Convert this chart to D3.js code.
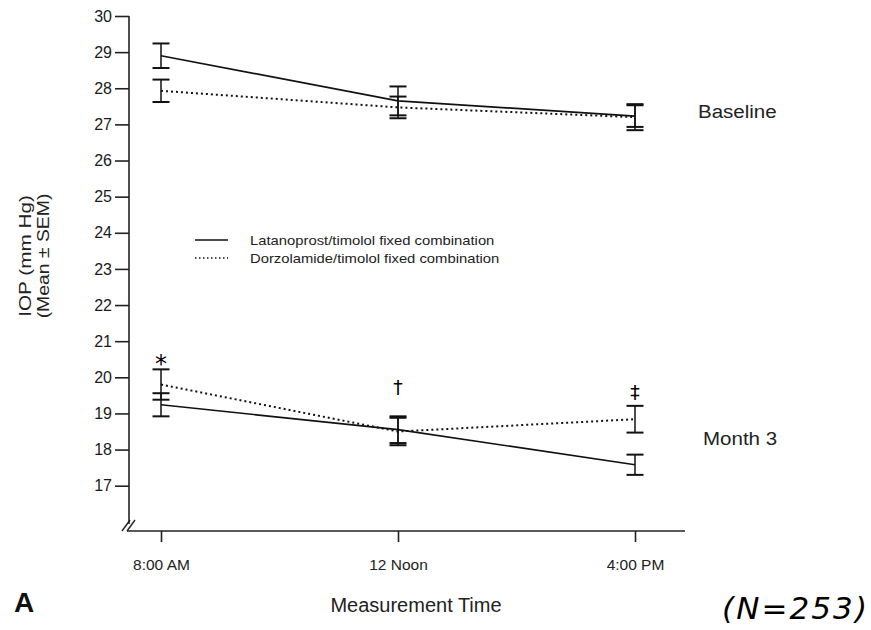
<!DOCTYPE html>
<html>
<head>
<meta charset="utf-8">
<script src="https://cdn.jsdelivr.net/npm/d3@7"></script>
<style>
  body { margin: 0; background: #fff; }
  svg { display: block; font-family: "Liberation Sans", Arial, sans-serif; }
</style>
</head>
<body>
<script>
const svgWidth = 871;
const svgHeight = 630;

// measurement times
const times = ["8:00 AM", "12 Noon", "4:00 PM"];
const yTicks = [17, 18, 19, 20, 21, 22, 23, 24, 25, 26, 27, 28, 29, 30];

// baseline means / SEM
const latBaseMean = [28.9, 27.65, 27.23];
const latBaseSem = [0.34, 0.4, 0.3];
const dorBaseMean = [27.93, 27.47, 27.2];
const dorBaseSem = [0.31, 0.3, 0.36];

// month 3 means / SEM
const latM3Mean = [19.24, 18.55, 17.58];
const latM3Sem = [0.32, 0.37, 0.28];
const dorM3Mean = [19.8, 18.5, 18.84];
const dorM3Sem = [0.42, 0.38, 0.37];

// significance marks and the IOP level they sit at
const sigMarks = ["*", "\u2020", "\u2021"];
const sigLevel = [20.55, 19.72, 19.6];
const seriesNames = ["Latanoprost/timolol fixed combination", "Dorzolamide/timolol fixed combination"];

const svg = d3.select("body").append("svg")
    .attr("width", svgWidth)
    .attr("height", svgHeight);

const xScale = d3.scalePoint()
    .domain(times)
    .range([161, 635]);

const yScale = d3.scaleLinear()
    .domain([17, 30])
    .range([485.7, 16]);

const axisX0 = 129;
const axisY0 = 531;

// y axis
const yAxis = svg.append("g")
    .attr("transform", `translate(${axisX0},0)`)
    .call(d3.axisLeft(yScale).tickValues(yTicks).tickSize(14).tickPadding(3).tickFormat(d3.format("d")));
yAxis.select(".domain").remove();
yAxis.selectAll("line").attr("stroke", "#222").attr("stroke-width", 1.6);
yAxis.selectAll("text").attr("fill", "#1a1a1a").style("font-size", "16px");

svg.append("line")
    .attr("x1", axisX0).attr("x2", axisX0)
    .attr("y1", yScale(30)).attr("y2", 524)
    .attr("stroke", "#222").attr("stroke-width", 1.6);

// axis break
[0, 5].forEach(o => {
    svg.append("line")
        .attr("x1", axisX0 - 7 + o).attr("y1", 531)
        .attr("x2", axisX0 + 1 + o).attr("y2", 520)
        .attr("stroke", "#222").attr("stroke-width", 1.4);
});

// x axis
const xAxis = svg.append("g")
    .attr("transform", `translate(0,${axisY0})`)
    .call(d3.axisBottom(xScale).tickSize(11).tickPadding(17));
xAxis.select(".domain").remove();
xAxis.selectAll("line").attr("stroke", "#222").attr("stroke-width", 1.6);
xAxis.selectAll("text").attr("fill", "#222").style("font-size", "15.5px");

svg.append("line")
    .attr("x1", axisX0 - 2).attr("x2", 685)
    .attr("y1", axisY0).attr("y2", axisY0)
    .attr("stroke", "#222").attr("stroke-width", 1.6);

// lines
const line = d3.line()
    .x((d, i) => xScale(times[i]))
    .y(d => yScale(d));

function drawSeries(means, sems, dashed) {
    svg.append("path")
        .datum(means)
        .attr("d", line)
        .attr("fill", "none")
        .attr("stroke", "#111")
        .attr("stroke-width", dashed ? 2 : 1.7)
        .attr("stroke-dasharray", dashed ? "2,3" : null);

    const g = svg.append("g");
    means.forEach((m, i) => {
        const x = xScale(times[i]);
        const yt = yScale(m + sems[i]);
        const yb = yScale(m - sems[i]);
        g.append("line").attr("x1", x).attr("x2", x).attr("y1", yt).attr("y2", yb)
            .attr("stroke", "#111").attr("stroke-width", 1.5);
        [yt, yb].forEach(yy => {
            g.append("line").attr("x1", x - 8.5).attr("x2", x + 8.5).attr("y1", yy).attr("y2", yy)
                .attr("stroke", "#111").attr("stroke-width", 2);
        });
    });
}

drawSeries(latBaseMean, latBaseSem, false);
drawSeries(dorBaseMean, dorBaseSem, true);
drawSeries(latM3Mean, latM3Sem, false);
drawSeries(dorM3Mean, dorM3Sem, true);

// significance marks
svg.selectAll(".sig")
    .data(sigMarks)
    .enter()
    .append("text")
    .attr("class", "sig")
    .attr("x", (d, i) => xScale(times[i]))
    .attr("y", (d, i) => yScale(sigLevel[i]))
    .attr("text-anchor", "middle")
    .attr("fill", "#000")
    .style("font-family", "'DejaVu Sans', sans-serif")
    .style("font-size", (d, i) => i === 0 ? "24px" : "19px")
    .attr("dy", (d, i) => i === 0 ? "0.62em" : "0.36em")
    .text(d => d);

// group labels
svg.append("text").attr("x", 698).attr("y", 118).text("Baseline")
    .attr("transform", "translate(698,118) scale(1.08,1) translate(-698,-118)")
    .style("font-size", "19px").attr("fill", "#222");
svg.append("text").attr("x", 703).attr("y", 445).text("Month 3")
    .attr("transform", "translate(703,445) scale(1.08,1) translate(-703,-445)")
    .style("font-size", "19px").attr("fill", "#222");

// legend
const legend = svg.append("g").attr("transform", "translate(195,240)");
seriesNames.forEach((name, i) => {
    legend.append("line")
        .attr("x1", 0).attr("x2", 33).attr("y1", i * 18).attr("y2", i * 18)
        .attr("stroke", "#111")
        .attr("stroke-width", i ? 1.4 : 1.7)
        .attr("stroke-dasharray", i ? "1.5,2.5" : null);
    legend.append("text")
        .attr("transform", `translate(55,${i * 18}) scale(1.14,1)`)
        .attr("dy", "0.35em")
        .style("font-size", "13px").attr("fill", "#222")
        .text(name);
});

// axis titles
svg.append("text")
    .attr("transform", "translate(31,256) rotate(-90) scale(1.22,1)")
    .attr("text-anchor", "middle")
    .style("font-size", "17px").attr("fill", "#222")
    .text("IOP (mm Hg)");
svg.append("text")
    .attr("transform", "translate(49,256) rotate(-90) scale(1.14,1)")
    .attr("text-anchor", "middle")
    .style("font-size", "17px").attr("fill", "#222")
    .text("(Mean \u00b1 SEM)");

svg.append("text")
    .attr("x", 416).attr("y", 612)
    .attr("text-anchor", "middle")
    .style("font-size", "20px").attr("fill", "#222")
    .text("Measurement Time");

svg.append("text")
    .attr("x", 14).attr("y", 612)
    .style("font-size", "28px").style("font-weight", "bold").attr("fill", "#111")
    .text("A");

svg.append("text")
    .attr("x", 722).attr("y", 619)
    .attr("textLength", 145)
    .style("font-family", "'DejaVu Sans', sans-serif")
    .style("font-size", "31px").style("font-style", "italic")
    .attr("fill", "#000")
    .text("(N=253)");
</script>
</body>
</html>
